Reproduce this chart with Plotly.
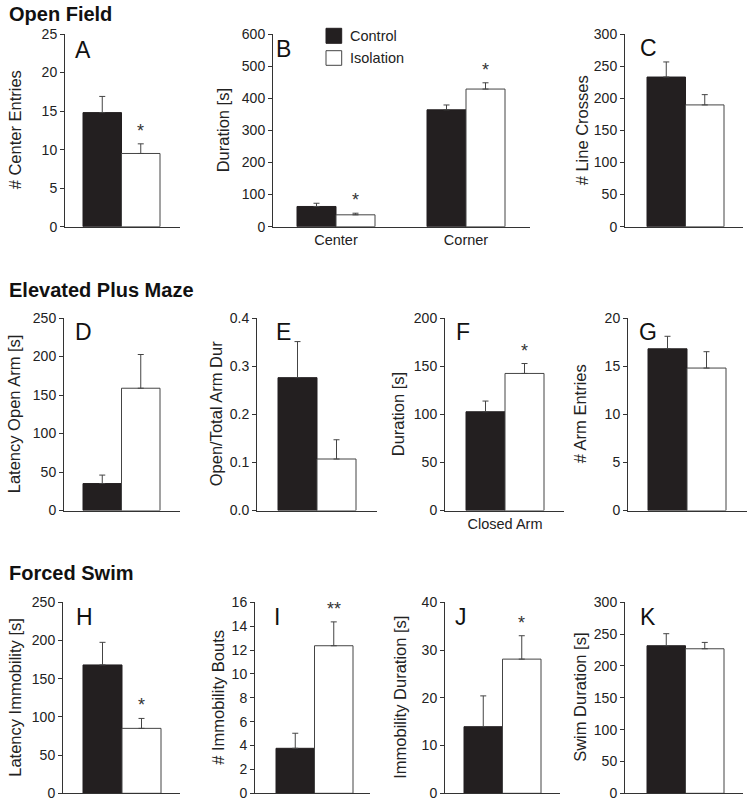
import plotly.graph_objects as go

# ---------------- data ----------------
panel_letters = ["A", "B", "C", "D", "E", "F", "G", "H", "I", "J", "K"]
y_titles = ["# Center Entries", "Duration [s]", "# Line Crosses",
            "Latency Open Arm [s]", "Open/Total Arm Dur", "Duration [s]", "# Arm Entries",
            "Latency Immobility [s]", "# Immobility Bouts", "Immobility Duration [s]", "Swim Duration [s]"]
x_categories = [["Center Entries"], ["Center", "Corner"], ["Line Crosses"],
                ["Latency Open Arm"], ["Open/Total Arm Dur"], ["Closed Arm"], ["Arm Entries"],
                ["Latency Immobility"], ["Immobility Bouts"], ["Immobility Duration"], ["Swim Duration"]]
show_x_labels = [False, True, False, False, False, True, False, False, False, False, False]
control_mean = [[14.8], [63, 364], [233], [35], [0.276], [102.6], [16.8], [168], [3.77], [13.95], [231.8]]
control_sem = [[2.1], [10, 15], [23.5], [11], [0.075], [11.1], [1.3], [29.6], [1.26], [6.45], [18.9]]
isolation_mean = [[9.5], [37, 428.6], [189.6], [158.8], [0.107], [142.4], [14.8], [85], [12.36], [28.1], [227]]
isolation_sem = [[1.25], [5, 19.5], [16], [43.8], [0.040], [10.3], [1.7], [13], [2.0], [4.9], [10]]
isolation_stars = [["*"], ["*", "*"], [""], [""], [""], ["*"], [""], ["*"], ["**"], ["*"], [""]]
y_max = [25, 600, 300, 250, 0.4, 200, 20, 250, 16, 40, 300]
y_dtick = [5, 100, 50, 50, 0.1, 50, 5, 50, 2, 10, 50]
section_titles = ["Open Field", "Elevated Plus Maze", "Forced Swim"]
series_names = ["Control", "Isolation"]

# ---------------- layout (pixels) ----------------
W, H = 754, 803
BARGAP = 0.4
panel_row = [0, 0, 0, 1, 1, 1, 1, 2, 2, 2, 2]
row_px = [(34, 226.7), (318, 510.5), (602.3, 793.3)]
axis_px = [(65, 180), (273, 530), (625, 743), (64, 180), (257, 377), (445, 564), (628, 747),
           (63, 180), (255, 370), (445, 560), (625, 743)]
bars_px = [(83, 160), (297, 375), (647, 724), (83, 160), (278, 356), (466, 544), (648, 726),
           (83, 161), (276, 353), (464, 541), (647, 724)]
ytitle_x = [15, 223, 582, 14, 216, 398, 580, 15, 218, 400, 580]
letter_xy = [(83, 50), (283, 49), (648, 48), (83, 332), (283, 332), (463, 332), (648, 332),
             (84, 617), (277, 617), (461, 617), (648, 617)]
section_y = [14.5, 290, 572.5]

FONT = "Liberation Sans, Arial, Helvetica, sans-serif"
BLACK = "#231f20"
LINE = "#333333"

fig = go.Figure()
annotations = []
shapes = []

for i in range(len(panel_letters)):
    k = i + 1
    xa = "x" if k == 1 else f"x{k}"
    ya = "y" if k == 1 else f"y{k}"
    cats = x_categories[i]
    n = len(cats)
    fig.add_trace(go.Bar(
        x=cats, y=control_mean[i], name=series_names[0], xaxis=xa, yaxis=ya,
        offsetgroup="c", showlegend=False,
        marker=dict(color=BLACK, line=dict(color=BLACK, width=1)),
        error_y=dict(type="data", symmetric=False, array=control_sem[i], arrayminus=[0] * n,
                     color="#444444", thickness=1, width=3),
    ))
    fig.add_trace(go.Bar(
        x=cats, y=isolation_mean[i], name=series_names[1], xaxis=xa, yaxis=ya,
        offsetgroup="i", showlegend=False,
        marker=dict(color="white", line=dict(color="#444444", width=1)),
        error_y=dict(type="data", symmetric=False, array=isolation_sem[i], arrayminus=[0] * n,
                     color="#444444", thickness=1, width=3),
    ))

    axL, axR = axis_px[i]
    bl, br = bars_px[i]
    c = (bl + br) / 2
    u = (br - bl) / (1 - BARGAP)
    top, bot = row_px[panel_row[i]]
    xkey = "xaxis" if k == 1 else f"xaxis{k}"
    ykey = "yaxis" if k == 1 else f"yaxis{k}"
    fig.update_layout(**{
        xkey: dict(domain=[axL / W, axR / W], anchor=ya, type="category",
                   range=[(axL - c) / u, (axR - c) / u], automargin=False,
                   showline=True, linecolor=LINE, linewidth=1, ticks="",
                   showticklabels=show_x_labels[i], showgrid=False, zeroline=False,
                   tickfont=dict(size=14.5, color="#222", family=FONT), fixedrange=True),
        ykey: dict(domain=[1 - bot / H, 1 - top / H], anchor=xa, automargin=False,
                   range=[0, y_max[i]], dtick=y_dtick[i],
                   tickformat=".1f" if y_max[i] < 1 else "d",
                   showline=True, linecolor=LINE, linewidth=1,
                   ticks="outside", ticklen=4, tickcolor=LINE, tickwidth=1,
                   showgrid=False, zeroline=False,
                   tickfont=dict(size=14, color="#222", family=FONT), fixedrange=True),
    })

    # significance stars above isolation bars
    for j in range(n):
        if isolation_stars[i][j]:
            annotations.append(dict(
                xref=xa, yref=ya, x=j + (1 - BARGAP) / 4,
                y=isolation_mean[i][j] + isolation_sem[i][j],
                text=isolation_stars[i][j], showarrow=False, yanchor="bottom", yshift=1,
                font=dict(size=18, color="#333", family=FONT)))

    # y-axis title
    annotations.append(dict(
        xref="paper", yref="paper", x=ytitle_x[i] / W, y=1 - (top + bot) / 2 / H,
        text=y_titles[i], textangle=-90, showarrow=False, xanchor="center", yanchor="middle",
        font=dict(size=16.5, color="#222", family=FONT)))

    # panel letter
    lx, ly = letter_xy[i]
    annotations.append(dict(
        xref="paper", yref="paper", x=lx / W, y=1 - ly / H, text=panel_letters[i],
        showarrow=False, xanchor="center", yanchor="middle",
        font=dict(size=23, color="#111", family=FONT)))

# section titles
for t, sy in zip(section_titles, section_y):
    annotations.append(dict(
        xref="paper", yref="paper", x=7 / W, y=1 - sy / H, text=f"<b>{t}</b>",
        showarrow=False, xanchor="left", yanchor="middle",
        font=dict(size=20, color="#111", family=FONT)))

# legend (keys drawn in panel B area)
legend_rows = [(28.3, 43.3), (50.7, 65.3)]
legend_fill = [BLACK, "white"]
legend_edge = [BLACK, "#444444"]
for name, (y0, y1), fc, ec in zip(series_names, legend_rows, legend_fill, legend_edge):
    shapes.append(dict(type="rect", xref="paper", yref="paper",
                       x0=326 / W, x1=341.7 / W, y0=1 - y1 / H, y1=1 - y0 / H,
                       fillcolor=fc, line=dict(color=ec, width=1)))
    annotations.append(dict(
        xref="paper", yref="paper", x=347.5 / W, y=1 - (y0 + y1) / 2 / H, text=name,
        showarrow=False, xanchor="left", yanchor="middle",
        font=dict(size=14.5, color="#222", family=FONT)))

fig.update_layout(
    template="none",
    width=W, height=H, autosize=False,
    margin=dict(l=0, r=0, t=0, b=0, pad=0, autoexpand=False),
    paper_bgcolor="white", plot_bgcolor="white",
    barmode="group", bargap=BARGAP, bargroupgap=0,
    showlegend=False, annotations=annotations, shapes=shapes,
    font=dict(family=FONT, color="#222"),
)

fig.write_html(
    "out.html",
    config={"displayModeBar": False, "staticPlot": True},
    post_script="document.body.style.margin='0';document.body.style.padding='0';"
                "document.body.style.overflow='hidden';",
)
